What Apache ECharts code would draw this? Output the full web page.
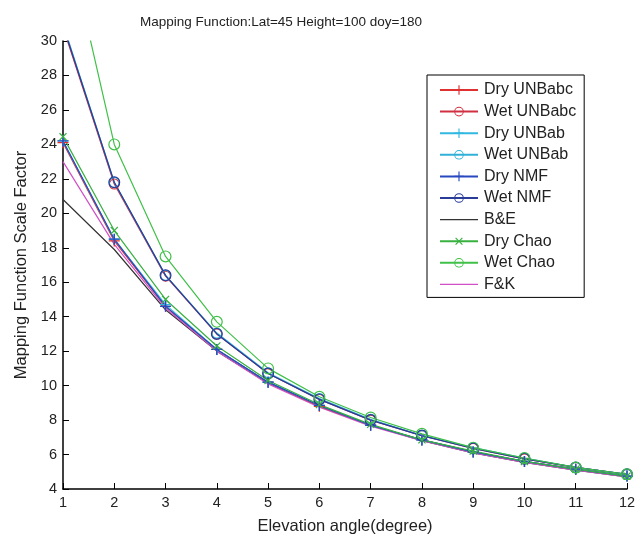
<!DOCTYPE html>
<html><head><meta charset="utf-8">
<script src="https://cdn.jsdelivr.net/npm/echarts@6/dist/echarts.min.js"></script>
<style>html,body{margin:0;padding:0;background:#fff}#c{width:644px;height:536px}</style>
</head><body><div id="c"></div>
<script>
const elevation = [1,2,3,4,5,6,7,8,9,10,11,12];
const dryUNBabc = [24.1, 18.4, 14.6, 12.1, 10.2, 8.8, 7.7, 6.85, 6.15, 5.6, 5.15, 4.75];
const wetUNBabc = [30.8, 21.7, 16.35, 13.0, 10.7, 9.2, 8.0, 7.1, 6.35, 5.75, 5.25, 4.85];
const dryUNBab  = [24.2, 18.5, 14.7, 12.1, 10.2, 8.85, 7.7, 6.85, 6.15, 5.6, 5.15, 4.75];
const wetUNBab  = [31.0, 21.8, 16.4, 13.05, 10.75, 9.25, 8.05, 7.1, 6.4, 5.8, 5.25, 4.85];
const dryNMF    = [24.2, 18.5, 14.6, 12.1, 10.2, 8.85, 7.7, 6.85, 6.15, 5.6, 5.15, 4.75];
const wetNMF    = [30.9, 21.8, 16.4, 13.0, 10.7, 9.2, 8.0, 7.1, 6.35, 5.75, 5.25, 4.85];
const BE        = [20.8, 17.9, 14.4, 12.0, 10.15, 8.8, 7.7, 6.8, 6.1, 5.55, 5.1, 4.7];
const dryChao   = [24.45, 19.0, 15.0, 12.3, 10.3, 8.9, 7.75, 6.85, 6.2, 5.6, 5.15, 4.75];
const wetChao   = [37.0, 24.0, 17.5, 13.7, 11.0, 9.35, 8.15, 7.2, 6.4, 5.8, 5.25, 4.85];
const FK        = [23.0, 18.2, 14.5, 12.0, 10.1, 8.75, 7.65, 6.8, 6.1, 5.55, 5.1, 4.7];
const yTicks = [4,6,8,10,12,14,16,18,20,22,24,26,28,30];
const legendNames = ['Dry UNBabc','Wet UNBabc','Dry UNBab','Wet UNBab','Dry NMF','Wet NMF','B&E','Dry Chao','Wet Chao','F&K'];

const PLUS = 'path://M4.4,0H5.6V4.4H10V5.6H5.6V10H4.4V5.6H0V4.4H4.4Z';
const RING = 'path://M10,5A5,5 0 1,1 0,5A5,5 0 1,1 10,5ZM9,5A4,4 0 1,0 1,5A4,4 0 1,0 9,5Z';
const LINE_ICON = 'path://M0,0H0.01V0.01H0ZM0,5.4H38V6.6H0ZM37.99,11.99H38V12H37.99Z';

function pts(arr){ return elevation.map((e,i)=>[e,arr[i]]); }
function mk(name, arr, color, symbol, size, rotate){
  return {
    name, type:'line', data: pts(arr), color,
    symbol: symbol || 'none', symbolSize: size || 10, symbolRotate: rotate || 0,
    showSymbol: !!symbol,
    lineStyle:{width:1.2, color}, itemStyle:{color},
    emphasis:{disabled:true}, animation:false, z: 2
  };
}

const FONT = 'Liberation Sans, Arial';
const chart = echarts.init(document.getElementById('c'));
chart.setOption({
  animation:false,
  title:{text:'Mapping Function:Lat=45 Height=100 doy=180', left:276, top:10, textAlign:'center',
    textStyle:{fontFamily:FONT, fontSize:13.5, fontWeight:'normal', color:'#222'}},
  grid:{left:63, right:17, top:41, bottom:47, outerBoundsMode:'none', containLabel:false},
  legend:{
    left:427, top:75, orient:'vertical',
    borderColor:'#000', borderWidth:1, padding:[7,8,5,12],
    itemWidth:38, itemHeight:12, itemGap:5.6,
    textStyle:{fontFamily:FONT, fontSize:16, color:'#222', padding:[0,0,0,1]},
    data: legendNames.map(n => (n === 'B&E' || n === 'F&K') ? {name:n, icon:LINE_ICON} : n)
  },
  xAxis:{type:'value', min:1, max:12, interval:1,
    name:'Elevation angle(degree)', nameLocation:'middle', nameGap:29,
    nameTextStyle:{fontFamily:FONT, fontSize:16.5, color:'#222'},
    axisLine:{lineStyle:{color:'#000', width:1.5}},
    axisTick:{inside:true, length:6, lineStyle:{color:'#000'}},
    axisLabel:{fontFamily:FONT, fontSize:14.5, color:'#222', margin:6},
    splitLine:{show:false}},
  yAxis:{type:'value', min:4, max:30, interval:2,
    name:'Mapping Function Scale Factor', nameLocation:'middle', nameGap:33,
    nameTextStyle:{fontFamily:FONT, fontSize:16.5, color:'#222'},
    axisLine:{show:true, lineStyle:{color:'#000', width:1.5}},
    axisTick:{show:true, inside:true, length:6, lineStyle:{color:'#000'}},
    axisLabel:{fontFamily:FONT, fontSize:14.5, color:'#222', margin:6,
      formatter: v => yTicks.includes(v) ? String(v) : ''},
    splitLine:{show:false}},
  series:[
    mk('B&E', BE, '#333333'),
    mk('F&K', FK, '#d050c8'),
    mk('Dry UNBabc', dryUNBabc, '#e03030', PLUS, 11),
    mk('Wet UNBabc', wetUNBabc, '#d03040', RING, 11),
    mk('Dry UNBab', dryUNBab, '#30b8e0', PLUS, 11),
    mk('Wet UNBab', wetUNBab, '#30b0d8', RING, 11),
    mk('Dry NMF', dryNMF, '#2848c0', PLUS, 11),
    mk('Wet NMF', wetNMF, '#283c98', RING, 12),
    mk('Dry Chao', dryChao, '#38b040', PLUS, 10, 45),
    mk('Wet Chao', wetChao, '#40c048', RING, 12)
  ]
});
</script></body></html>
